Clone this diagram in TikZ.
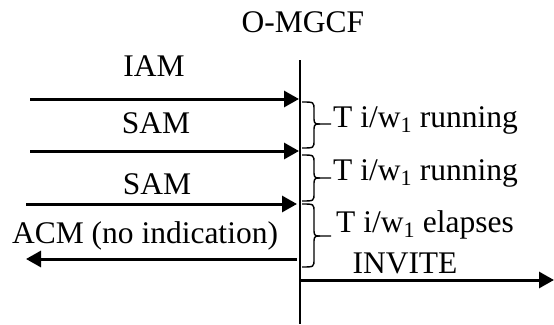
\documentclass[tikz,border=0pt]{standalone}
\usepackage{fontspec}
\setmainfont{Liberation Serif}
\usetikzlibrary{arrows.meta}
\begin{document}
\begin{tikzpicture}[x=1pt,y=-1pt,
  lbl/.style={inner sep=0pt,anchor=base,font=\fontsize{31.5}{36}\selectfont},
  tlbl/.style={inner sep=0pt,anchor=base west,font=\fontsize{31.5}{36}\selectfont},
  msg/.style={line width=3pt,-{Triangle[length=15pt,width=16pt]}},
  life/.style={line width=1.5pt},
  brc/.style={line width=1.4pt}]
\useasboundingbox (0,0) rectangle (554,324);
% lifeline
\coordinate (top) at (300,60);
\coordinate (bot) at (300,324);
\draw[life] (top) -- (bot);
\node[lbl] (title) at (303,32) {O-MGCF};
% messages
\coordinate (a1) at (30,99);   \coordinate (b1) at (299,99);
\coordinate (a2) at (30,151);  \coordinate (b2) at (299,151);
\coordinate (a3) at (26,204);  \coordinate (b3) at (297,204);
\coordinate (a4) at (26,259);  \coordinate (b4) at (297,259);
\coordinate (a5) at (299,280); \coordinate (b5) at (554,280);
\draw[msg] (a1) -- (b1);
\draw[msg] (a2) -- (b2);
\draw[msg] (a3) -- (b3);
\draw[msg] (b4) -- (a4);
\draw[msg] (a5) -- (b5);
\node[lbl] (iam) at (154,76) {IAM};
\node[lbl] (sam1) at (156,133) {SAM};
\node[lbl] (sam2) at (157,194) {SAM};
\node[lbl] (acm) at (145,243) {ACM (no indication)};
\node[lbl] (inv) at (405,273) {INVITE};
% braces
\newcommand\mybrace[3]{%
  \draw[brc] (302,#1) .. controls (314,#1) .. (314,#1+8) -- (314,#3-5)
    .. controls (314,#3) and (316,#3) .. (320,#3) -- (331,#3);
  \draw[brc] (320,#3) .. controls (316,#3) and (314,#3) .. (314,#3+5)
    -- (314,#2-8) .. controls (314,#2) .. (302,#2);}
\mybrace{102}{148}{124}
\mybrace{155}{201}{178}
\mybrace{204}{267}{236}
\node[tlbl] (t1) at (333,127) {T i/w\textsubscript{1} running};
\node[tlbl] (t2) at (333,180) {T i/w\textsubscript{1} running};
\node[tlbl] (t3) at (336,232) {T i/w\textsubscript{1} elapses};
\end{tikzpicture}
\end{document}
